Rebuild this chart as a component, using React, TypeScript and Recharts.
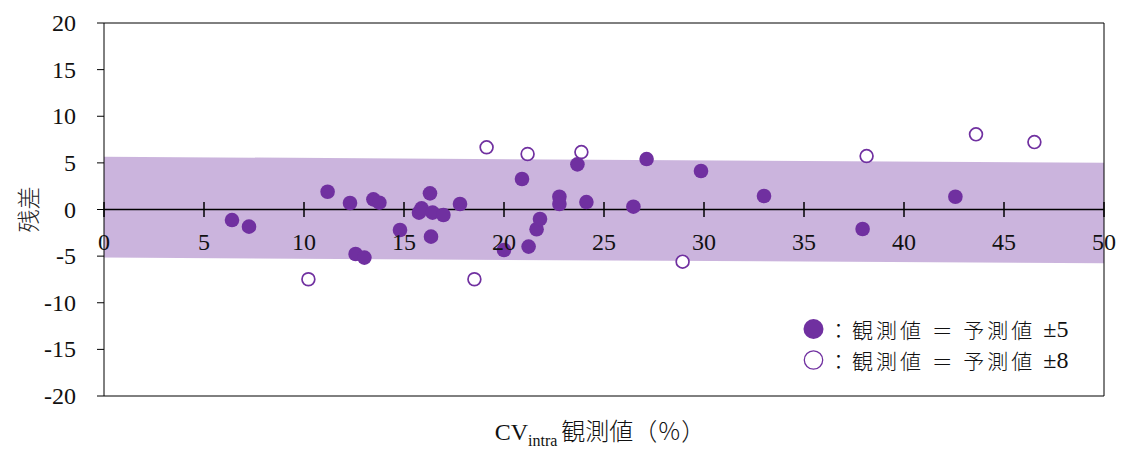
import { ComposedChart, Area, Scatter, XAxis, YAxis, ReferenceLine, Label } from "recharts";

const X_TICKS = [0, 5, 10, 15, 20, 25, 30, 35, 40, 45, 50];
const Y_TICKS = [-20, -15, -10, -5, 0, 5, 10, 15, 20];

// filled: observed = predicted ±5
const FILLED_X = [6.4, 7.25, 11.18, 12.3, 13.47, 13.77, 12.58, 13.02, 14.8, 15.75, 15.88, 16.3, 16.43, 16.97, 16.35, 17.8, 20.0, 20.9, 21.23, 21.63, 21.8, 22.77, 22.77, 23.67, 24.12, 26.47, 27.13, 29.85, 33.0, 37.93, 42.57];
const FILLED_Y = [-1.13, -1.84, 1.9, 0.7, 1.09, 0.73, -4.77, -5.16, -2.2, -0.34, 0.13, 1.73, -0.34, -0.59, -2.91, 0.59, -4.34, 3.27, -3.98, -2.12, -1.02, 1.37, 0.59, 4.84, 0.8, 0.3, 5.41, 4.13, 1.45, -2.09, 1.37];

// open: observed = predicted ±8
const OPEN_X = [10.22, 18.52, 19.13, 21.18, 23.87, 28.93, 38.13, 43.6, 46.52];
const OPEN_Y = [-7.48, -7.48, 6.67, 5.95, 6.16, -5.59, 5.73, 8.06, 7.23];

// shaded band edges at x = 0 and x = 50
const BAND_X = [0, 50];
const BAND_LO = [-5.16, -5.77];
const BAND_HI = [5.66, 5.02];

const LEGEND = [
  { kind: "filled", text: "：観測値 ＝ 予測値", pm: "±5" },
  { kind: "open", text: "：観測値 ＝ 予測値", pm: "±8" },
];

const filled = FILLED_X.map((x, i) => ({ x, y: FILLED_Y[i] }));
const open = OPEN_X.map((x, i) => ({ x, y: OPEN_Y[i] }));
const band = BAND_X.map((x, i) => ({ x, band: [BAND_LO[i], BAND_HI[i]] }));

const PURPLE = "#7030A0";
const SERIF = "Liberation Serif";
const CJK = "Noto Sans CJK JP";
const W = 1121, H = 455;
const MARGIN = { top: 23, right: 17, left: 0, bottom: 0 };
const X_AXIS_H = 59;
const Y_MIN = -20, Y_MAX = 20;
const PLOT_H = H - MARGIN.top - X_AXIS_H;
const ZERO_OFFSET = PLOT_H * (0 - Y_MIN) / (Y_MAX - Y_MIN);

// x ticks sit on the zero line, not on the bottom edge
const XTick = ({ x, y, payload }: any) => {
  const y0 = y - ZERO_OFFSET;
  return (
    <g>
      <line x1={x} x2={x} y1={y0 - 7.5} y2={y0 + 7.5} stroke="#000" strokeWidth={1.5} />
      <text x={x} y={y0 + 40} textAnchor="middle" fontSize={24} fontFamily={SERIF} fill="#111">
        {payload.value}
      </text>
    </g>
  );
};

const YTick = ({ x, y, payload }: any) => (
  <text x={x} y={y} dy={8} textAnchor="end" fontSize={24} fontFamily={SERIF} fill="#111">
    {payload.value}
  </text>
);

const XLabel = ({ viewBox }: any) => {
  const cx = viewBox.x + viewBox.width / 2 - 4;
  return (
    <text x={cx} y={viewBox.y + 44} textAnchor="middle" fontSize={24} fontFamily={SERIF} fill="#111">
      CV<tspan fontSize={16} dy={6}>intra</tspan>
      <tspan dy={-6} dx={4} fontFamily={CJK} fontWeight={300}>観測値（％）</tspan>
    </text>
  );
};

const YLabel = ({ viewBox }: any) => {
  const cx = viewBox.x + 27;
  const cy = viewBox.y + viewBox.height / 2;
  return (
    <text x={cx} y={cy} transform={`rotate(-90 ${cx} ${cy})`} textAnchor="middle" dominantBaseline="central"
      fontSize={23} fontFamily={CJK} fontWeight={300} fill="#222">
      残差
    </text>
  );
};

const Dot = ({ cx, cy }: any) => <circle cx={cx} cy={cy} r={7.3} fill={PURPLE} />;
const Ring = ({ cx, cy }: any) => <circle cx={cx} cy={cy} r={6.4} fill="#fff" stroke={PURPLE} strokeWidth={1.7} />;

const legendRow = { display: "flex", alignItems: "center", height: 31, lineHeight: "22px" } as const;

export default function App() {
  return (
    <div style={{ position: "absolute", left: 0, top: 0, width: W, height: H, background: "#fff" }}>
      <ComposedChart width={W} height={H} data={band} margin={MARGIN}>
        <XAxis
          dataKey="x" type="number" domain={[0, 50]} ticks={X_TICKS} allowDataOverflow
          height={X_AXIS_H} tickSize={0} tickMargin={0} tickLine={false}
          axisLine={{ stroke: "#000" }} tick={<XTick />} interval={0}
        >
          <Label content={<XLabel />} />
        </XAxis>
        <YAxis
          dataKey="y" type="number" domain={[Y_MIN, Y_MAX]} ticks={Y_TICKS} allowDataOverflow width={104}
          tickSize={7} tickMargin={21} axisLine={{ stroke: "#000" }} tickLine={{ stroke: "#000" }}
          tick={<YTick />} interval={0}
        >
          <Label content={<YLabel />} />
        </YAxis>
        <ReferenceLine y={20} stroke="#000" />
        <ReferenceLine x={50} stroke="#000" />
        <ReferenceLine y={0} stroke="#000" strokeWidth={1.6} />
        <Area
          dataKey="band" type="linear" stroke="none" fill={PURPLE} fillOpacity={0.36}
          dot={false} activeDot={false} isAnimationActive={false}
        />
        <Scatter data={filled} dataKey="y" shape={<Dot />} isAnimationActive={false} />
        <Scatter data={open} dataKey="y" shape={<Ring />} isAnimationActive={false} />
      </ComposedChart>
      <div style={{ position: "absolute", left: 802, top: 313, fontSize: 21, color: "#111" }}>
        {LEGEND.map(l => (
          <div key={l.pm} style={legendRow}>
            <svg width={24} height={24}>
              {l.kind === "filled"
                ? <circle cx={11.5} cy={12} r={10} fill={PURPLE} />
                : <circle cx={11.5} cy={12} r={9.2} fill="#fff" stroke={PURPLE} strokeWidth={1.3} />}
            </svg>
            <span style={{ fontFamily: CJK, fontWeight: 300, whiteSpace: "pre", letterSpacing: 3, marginLeft: 2 }}>{l.text}</span>
            <span style={{ fontFamily: SERIF, fontSize: 24, marginLeft: 8 }}>{l.pm}</span>
          </div>
        ))}
      </div>
    </div>
  );
}
